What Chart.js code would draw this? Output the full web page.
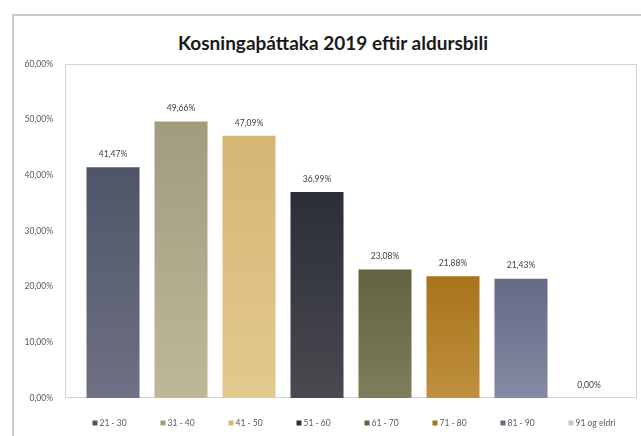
<!DOCTYPE html>
<html>
<head>
<meta charset="utf-8">
<script src="https://cdn.jsdelivr.net/npm/chart.js@4.4.1/dist/chart.umd.min.js"></script>
<style>
  html, body { margin: 0; padding: 0; background: #fff; overflow: hidden; }
  #frame { position: absolute; left: 12px; top: 14px; width: 700px; height: 500px; border: 2px solid #cbcbcb; box-sizing: border-box; }
  #title { position: absolute; left: 12px; top: 31px; width: 642px; text-align: center; font: bold 19px Lato, 'Open Sans', sans-serif; color: #1a1a1a; line-height: 23px; }
  #wrap { position: absolute; left: 0; top: 0; width: 641px; height: 436px; }
</style>
</head>
<body>
<div id="frame"></div>
<div id="title">Kosningaþáttaka 2019 eftir aldursbili</div>
<div id="wrap"><canvas id="chart"></canvas></div>
<script>
// age groups and turnout 2019 (%)
var groups = ["21 - 30", "31 - 40", "41 - 50", "51 - 60", "61 - 70", "71 - 80", "81 - 90", "91 og eldri"];
var turnout = [41.47, 49.66, 47.09, 36.99, 23.08, 21.88, 21.43, 0.00];
var yMax = 60, yStep = 10;

// top / bottom colour of each bar gradient
var topCols = ["#4f5468", "#9f9d7e", "#d6b673", "#2b2f38", "#64633f", "#a8731a", "#646a86", "#c8c8c8"];
var botCols = ["#6e7183", "#bdb898", "#e3c98f", "#4a4950", "#7e7d5c", "#c0903f", "#858aa2", "#d8d8d8"];

var fontFam = "Lato, 'Open Sans', sans-serif";

function pct(v) {
  return Number(v).toFixed(2).replace(".", ",") + "%";
}

function barFill(i) {
  return function (c) {
    var chart = c.chart;
    var area = chart.chartArea;
    if (!area || !chart.scales.y) return topCols[i];
    var y = chart.scales.y.getPixelForValue(c.raw);
    if (!(area.bottom - y > 1)) return topCols[i];
    var g = chart.ctx.createLinearGradient(0, y, 0, area.bottom);
    g.addColorStop(0, topCols[i]);
    g.addColorStop(1, botCols[i]);
    return g;
  };
}

var datasets = groups.map(function (name, i) {
  return {
    label: name,
    data: [turnout[i]],
    backgroundColor: barFill(i),
    borderWidth: 0,
    categoryPercentage: 0.951,
    barPercentage: 0.78
  };
});

// frame around the plot area
var plotFrame = {
  id: "plotFrame",
  beforeDatasetsDraw: function (chart) {
    var a = chart.chartArea, ctx = chart.ctx;
    ctx.save();
    ctx.strokeStyle = "#d4d4d4";
    ctx.lineWidth = 1;
    ctx.strokeRect(a.left + 0.5, a.top + 0.5, a.right - a.left - 1, a.bottom - a.top - 1);
    ctx.restore();
  }
};

// value labels above bars, legend items under bars
var labelsAndLegend = {
  id: "labelsAndLegend",
  afterDatasetsDraw: function (chart) {
    var ctx = chart.ctx;
    ctx.save();
    chart.data.datasets.forEach(function (ds, i) {
      var bar = chart.getDatasetMeta(i).data[0];
      ctx.fillStyle = "#404040";
      ctx.font = "8.5px " + fontFam;
      ctx.textAlign = "center";
      ctx.textBaseline = "middle";
      ctx.fillText(pct(ds.data[0]), bar.x, bar.y - 13);

      var lx = bar.x - bar.width / 2 + 6;
      var ly = 423;
      ctx.fillStyle = topCols[i];
      ctx.fillRect(lx, ly - 2.5, 5, 5);
      ctx.fillStyle = "#595959";
      ctx.font = "8.5px " + fontFam;
      ctx.textAlign = "left";
      ctx.fillText(ds.label, lx + 7, ly);
    });
    ctx.restore();
  }
};

new Chart(document.getElementById("chart"), {
  type: "bar",
  data: { labels: [""], datasets: datasets },
  options: {
    responsive: true,
    maintainAspectRatio: false,
    animation: false,
    layout: { padding: { left: 0, right: 4, top: 64, bottom: 38 } },
    plugins: {
      legend: { display: false },
      tooltip: { enabled: false },
      title: { display: false }
    },
    scales: {
      x: { display: false },
      y: {
        min: 0,
        max: yMax,
        afterFit: function (s) { s.width = 65; },
        grid: { display: false },
        border: { display: false },
        ticks: {
          stepSize: yStep,
          padding: 4,
          color: "#595959",
          font: { family: fontFam, size: 8.5 },
          callback: function (v) { return pct(v); }
        }
      }
    }
  },
  plugins: [plotFrame, labelsAndLegend]
});
</script>
</body>
</html>
